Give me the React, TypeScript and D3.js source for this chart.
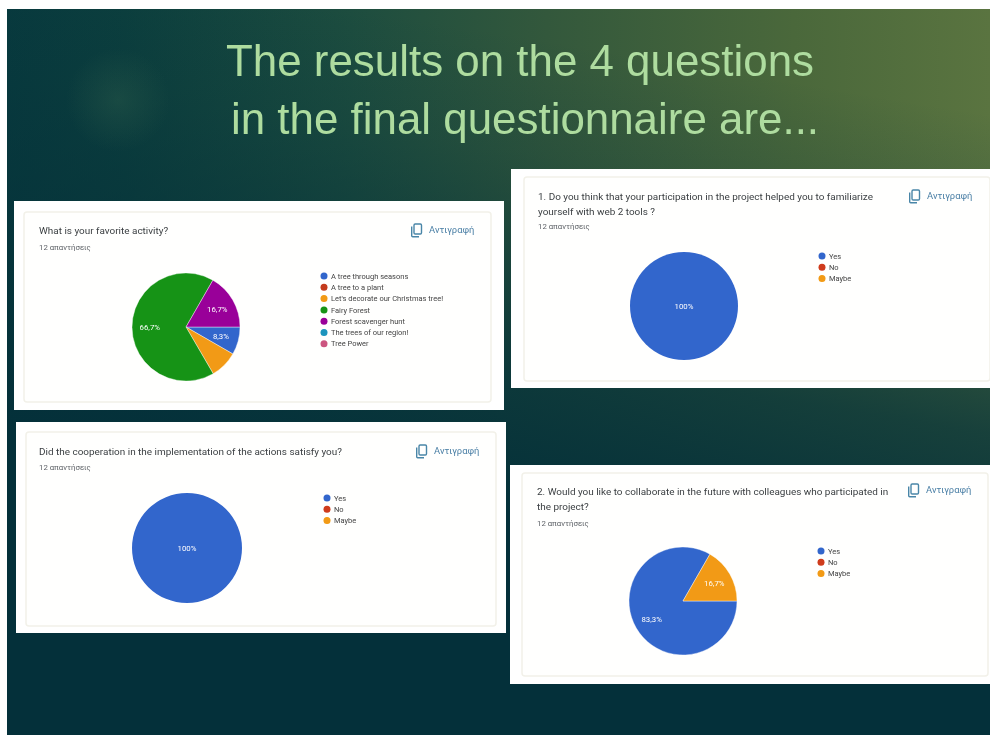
import React from "react";
import * as d3 from "d3";

const W = 990;
const H = 735;
const FONT = "Roboto, 'Liberation Sans', sans-serif";

const activityLabels = ["A tree through seasons", "A tree to a plant", "Let's decorate our Christmas tree!", "Fairy Forest", "Forest scavenger hunt", "The trees of our region!", "Tree Power"];
const activityValues = [8.3, 0, 8.3, 66.7, 16.7, 0, 0];
const activityText = ["8,3%", "", "", "66,7%", "16,7%", "", ""];
const activityColors = ["#3366cc", "#c43a1b", "#f29a12", "#129312", "#990099", "#1a94bd", "#cc5580"];

const answerLabels = ["Yes", "No", "Maybe"];
const answerColors = ["#3366cc", "#cf3a1a", "#f29a12"];
const webValues = [100, 0, 0];
const webText = ["100%", "", ""];
const coopValues = [100, 0, 0];
const coopText = ["100%", "", ""];
const futureValues = [83.3, 0, 16.7];
const futureText = ["83,3%", "", "16,7%"];

const titleLines = ["The results on the 4 questions", "in the final questionnaire are..."];
const titleXs = [226, 231];
const titleYs = [76, 134];

type Panel = {
  box: [number, number, number, number];
  inner: [number, number, number, number];
  title: string[];
  titleX: number;
  titleY: number;
  countY: number;
  copyX: number;
  copyY: number;
  cx: number;
  cy: number;
  r: number;
  legendX: number;
  legendY: number;
  legendStep: number;
  labels: string[];
  values: number[];
  text: string[];
  colors: string[];
};

const panels: Panel[] = [
  { box: [14, 201, 490, 209], inner: [24, 212, 467, 190], title: ["What is your favorite activity?"], titleX: 39, titleY: 234, countY: 250, copyX: 411, copyY: 230, cx: 186, cy: 327, r: 54, legendX: 324, legendY: 276, legendStep: 11.3, labels: activityLabels, values: activityValues, text: activityText, colors: activityColors },
  { box: [511, 169, 479, 219], inner: [524, 177, 466, 204], title: ["1. Do you think that your participation in the project helped you to familiarize", "yourself with web 2 tools ?"], titleX: 538, titleY: 200, countY: 229, copyX: 909, copyY: 196, cx: 684, cy: 306, r: 54, legendX: 822, legendY: 256, legendStep: 11.3, labels: answerLabels, values: webValues, text: webText, colors: answerColors },
  { box: [16, 422, 490, 211], inner: [26, 432, 470, 194], title: ["Did the cooperation in the implementation of the actions satisfy you?"], titleX: 39, titleY: 455, countY: 470, copyX: 416, copyY: 451, cx: 187, cy: 548, r: 55, legendX: 327, legendY: 498, legendStep: 11.3, labels: answerLabels, values: coopValues, text: coopText, colors: answerColors },
  { box: [510, 465, 480, 219], inner: [522, 473, 466, 203], title: ["2. Would you like to collaborate in the future with colleagues who participated in", "the project?"], titleX: 537, titleY: 495, countY: 526, copyX: 908, copyY: 490, cx: 683, cy: 601, r: 54, legendX: 821, legendY: 551, legendStep: 11.3, labels: answerLabels, values: futureValues, text: futureText, colors: answerColors },
];

const pieGen = d3
  .pie<number>()
  .sort(null)
  .startAngle(Math.PI / 2)
  .endAngle(Math.PI / 2 + 2 * Math.PI);

function PieCard({ p }: { p: Panel }) {
  const [x, y, w, h] = p.box;
  const [ix, iy, iw, ih] = p.inner;
  const arcs = pieGen(p.values);
  const arc = d3.arc<d3.PieArcDatum<number>>().innerRadius(0).outerRadius(p.r);
  const labelArc = d3.arc<d3.PieArcDatum<number>>().innerRadius(p.r * 0.67).outerRadius(p.r * 0.67);
  return (
    <g>
      <rect x={x} y={y} width={w} height={h} fill="#ffffff" />
      <rect x={ix} y={iy} width={iw} height={ih} rx={3} fill="#fffffe" stroke="#f2f1e9" strokeWidth={1.5} />
      {p.title.map((t, i) => (
        <text key={t} x={p.titleX} y={p.titleY + i * 15.2} fontSize={9.95} fill="#3c4043" fontFamily={FONT}>{t}</text>
      ))}
      <text x={p.titleX} y={p.countY} fontSize={7.8} fill="#5f6368" fontFamily={FONT}>12 απαντήσεις</text>
      <g transform={`translate(${p.copyX},${p.copyY})`} fill="none" stroke="#4a86a8" strokeWidth={1.4}>
        <rect x={3} y={-6} width={7.5} height={10} rx={1.2} />
        <path d="M0.7,-3.5 V5.8 A1,1 0 0 0 1.7,6.8 H8" />
      </g>
      <text x={p.copyX + 18} y={p.copyY + 2.5} fontSize={9.4} fill="#4a7fa5" fontFamily={FONT}>Αντιγραφή</text>
      {arcs.map((d, i) =>
        d.value > 0 ? <path key={i} d={arc(d) ?? ""} transform={`translate(${p.cx},${p.cy})`} fill={p.colors[i]} stroke="#ffffff" strokeWidth={d.value < 100 ? 0.4 : 0} /> : null
      )}
      {arcs.map((d, i) => {
        if (!p.text[i]) return null;
        const [lx, ly] = d.value >= 100 ? [0, 0] : labelArc.centroid(d);
        return (
          <text key={i} x={p.cx + lx} y={p.cy + ly} dy="0.35em" textAnchor="middle" fontSize={7.8} fill="#ffffff" fontFamily={FONT}>{p.text[i]}</text>
        );
      })}
      {p.labels.map((l, i) => (
        <g key={l}>
          <circle cx={p.legendX} cy={p.legendY + i * p.legendStep} r={3.5} fill={p.colors[i]} />
          <text x={p.legendX + 7} y={p.legendY + i * p.legendStep} dy="0.35em" fontSize={7.5} fill="#444444" fontFamily={FONT}>{l}</text>
        </g>
      ))}
    </g>
  );
}

export default function App() {
  return (
    <svg width={W} height={H} viewBox={`0 0 ${W} ${H}`} style={{ position: "absolute", left: 0, top: 0, display: "block" }}>
      <defs>
        <linearGradient id="bg" x1="0" y1="0" x2="1" y2="0">
          <stop offset="0" stopColor="#083a3e" />
          <stop offset="0.12" stopColor="#0c3f3e" />
          <stop offset="0.35" stopColor="#1d4d3f" />
          <stop offset="0.55" stopColor="#33583c" />
          <stop offset="0.8" stopColor="#4a683b" />
          <stop offset="1" stopColor="#5a7440" />
        </linearGradient>
        <linearGradient id="fade" x1="0.72" y1="0.08" x2="0.56" y2="0.78">
          <stop offset="0" stopColor="#05323a" stopOpacity={0} />
          <stop offset="0.22" stopColor="#05323a" stopOpacity={0.2} />
          <stop offset="0.6" stopColor="#05323a" stopOpacity={0.78} />
          <stop offset="0.9" stopColor="#04303a" stopOpacity={1} />
        </linearGradient>
        <radialGradient id="glow">
          <stop offset="0" stopColor="#3b6a50" stopOpacity={0.3} />
          <stop offset="1" stopColor="#3b6a50" stopOpacity={0} />
        </radialGradient>
        <filter id="soft" x="-2%" y="-2%" width="104%" height="104%">
          <feGaussianBlur stdDeviation="0.7" />
        </filter>
      </defs>
      <rect width={W} height={H} fill="#ffffff" />
      <rect x={7} y={9} width={W - 7} height={H - 9} fill="url(#bg)" />
      <rect x={7} y={9} width={W - 7} height={H - 9} fill="url(#fade)" />
      <circle cx={118} cy={100} r={52} fill="url(#glow)" />
      <g filter="url(#soft)">
        {titleLines.map((t, i) => (
          <text key={t} x={titleXs[i]} y={titleYs[i]} fontSize={43.9} fill="#aedc9f" fontFamily="'Liberation Sans', Arial, sans-serif">{t}</text>
        ))}
        {panels.map((p) => (
          <PieCard key={p.title[0]} p={p} />
        ))}
      </g>
    </svg>
  );
}
